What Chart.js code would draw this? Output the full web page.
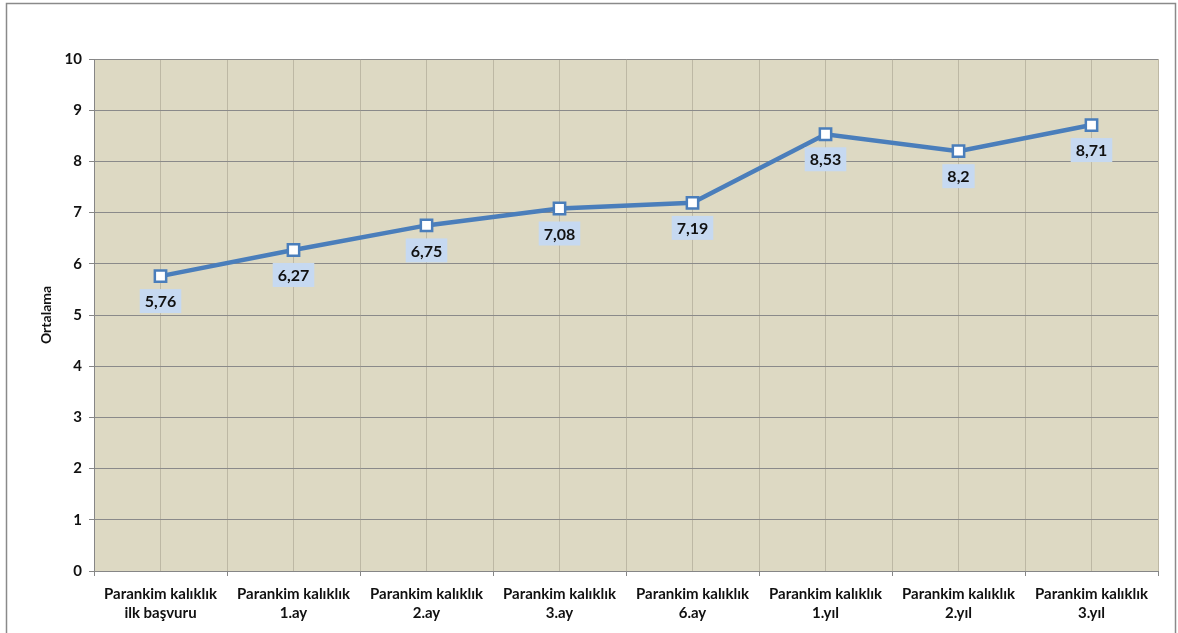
<!DOCTYPE html>
<html lang="tr">
<head>
<meta charset="UTF-8">
<title>Parankim kalıklık - Ortalama</title>
<script src="https://cdn.jsdelivr.net/npm/chart.js"></script>
<style>
  html, body { margin: 0; padding: 0; background: #fff; }
  #wrap { width: 1178px; height: 633px; position: relative; }
</style>
</head>
<body>
<div id="wrap"><canvas id="chart"></canvas></div>
<script>
  // Data
  const categories = [
    ['Parankim kalıklık', 'ilk başvuru'],
    ['Parankim kalıklık', '1.ay'],
    ['Parankim kalıklık', '2.ay'],
    ['Parankim kalıklık', '3.ay'],
    ['Parankim kalıklık', '6.ay'],
    ['Parankim kalıklık', '1.yıl'],
    ['Parankim kalıklık', '2.yıl'],
    ['Parankim kalıklık', '3.yıl']
  ];
  const means = [5.76, 6.27, 6.75, 7.08, 7.19, 8.53, 8.2, 8.71];
  const yMin = 0, yMax = 10, yStep = 1;

  const FONT = 'Lato, "Open Sans", sans-serif';
  const fmt = v => String(v).replace('.', ',');

  // outer frame + tan plot background
  const frame = {
    id: 'frame',
    beforeDraw(chart) {
      const ctx = chart.ctx, a = chart.chartArea;
      ctx.save();
      ctx.strokeStyle = '#8a8a8a';
      ctx.lineWidth = 1.5;
      ctx.strokeRect(6.5, 3.5, 1169, 700);
      ctx.fillStyle = '#ddd9c3';
      ctx.fillRect(a.left, a.top, a.right - a.left, a.bottom - a.top);
      ctx.restore();
    }
  };

  // value boxes under each point
  const valueLabels = {
    id: 'valueLabels',
    afterDatasetsDraw(chart) {
      const ctx = chart.ctx;
      const meta = chart.getDatasetMeta(0);
      ctx.save();
      ctx.font = 'bold 16px ' + FONT;
      ctx.textAlign = 'center';
      ctx.textBaseline = 'middle';
      meta.data.forEach((pt, i) => {
        const text = fmt(chart.data.datasets[0].data[i]);
        const w = ctx.measureText(text).width + 10;
        const h = 24;
        const cx = pt.x, cy = pt.y + 25;
        ctx.fillStyle = '#c6d9f1';
        ctx.fillRect(cx - w / 2, cy - h / 2, w, h);
        ctx.fillStyle = '#111';
        ctx.fillText(text, cx, cy + 1);
      });
      ctx.restore();
    }
  };

  new Chart(document.getElementById('chart'), {
    type: 'line',
    data: {
      labels: categories,
      datasets: [{
        data: means,
        borderColor: '#4a7ebb',
        borderWidth: 4.5,
        pointStyle: 'rect',
        pointRadius: 8,
        pointHoverRadius: 8,
        pointBorderWidth: 2.5,
        pointBackgroundColor: '#ffffff',
        pointBorderColor: '#4a7ebb',
        tension: 0
      }]
    },
    options: {
      responsive: true,
      maintainAspectRatio: false,
      animation: false,
      layout: { padding: { left: 0, top: 59, right: 20, bottom: 0 } },
      plugins: {
        legend: { display: false },
        tooltip: { enabled: false }
      },
      scales: {
        x: {
          offset: true,
          grid: { offset: true, color: '#bdb8a4', tickColor: '#868686', tickLength: 5, lineWidth: 1 },
          border: { color: '#868686', width: 1 },
          ticks: { color: '#111', font: { family: FONT, size: 15, weight: 'bold', lineHeight: 1.25 }, padding: 9, maxRotation: 0, autoSkip: false },
          afterFit: s => { s.height = 62; }
        },
        x2: {
          type: 'category',
          position: 'bottom',
          labels: categories,
          offset: true,
          grid: { offset: false, color: '#bdb8a4', drawTicks: false, lineWidth: 1 },
          border: { display: false },
          ticks: { display: false },
          afterFit: s => { s.height = 0; }
        },
        y: {
          min: yMin,
          max: yMax,
          ticks: { stepSize: yStep, color: '#111', font: { family: FONT, size: 15, weight: 'bold' }, padding: 7 },
          grid: { color: '#8a8a8a', tickColor: '#868686', tickLength: 5, lineWidth: 1 },
          border: { color: '#868686', width: 1 },
          title: {
            display: true,
            text: 'Ortalama',
            color: '#111',
            font: { family: FONT, size: 14, weight: 'bold' },
            padding: { top: 38, bottom: 0 }
          },
          afterFit: s => { s.width = 94; }
        }
      }
    },
    plugins: [frame, valueLabels]
  });
</script>
</body>
</html>
